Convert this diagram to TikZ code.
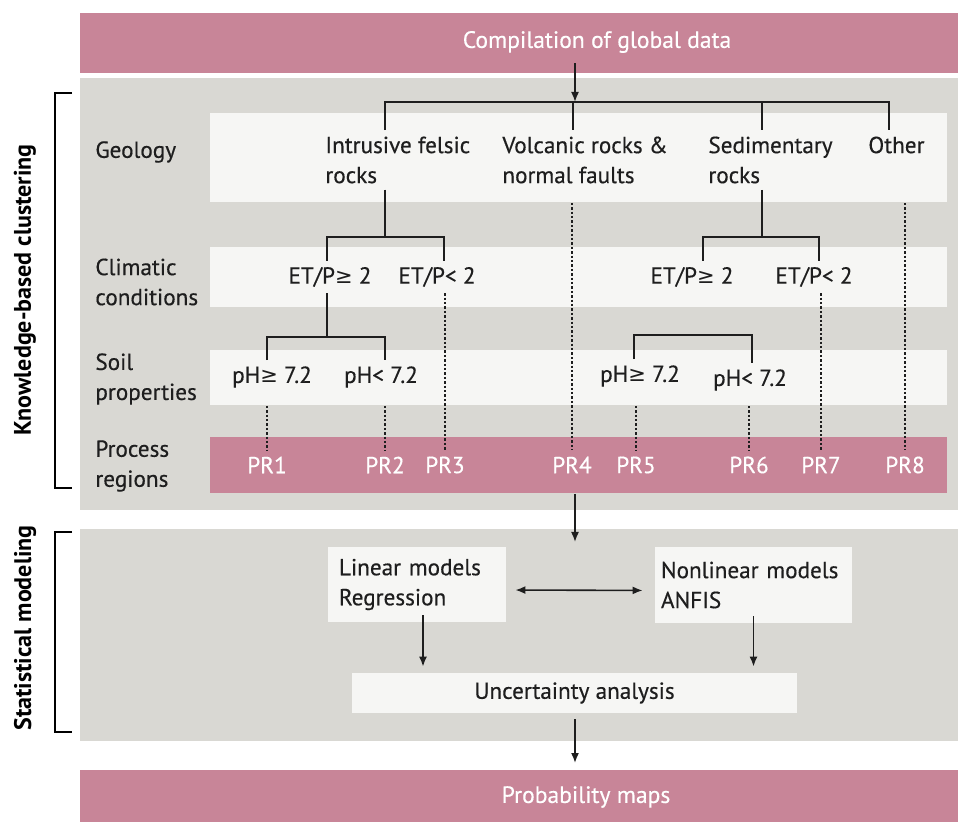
\documentclass[tikz,border=0pt]{standalone}
\usepackage{fontspec}
\setmainfont{PT Sans}
\newfontfamily\medfont[FakeBold=0.4]{PT Sans}
\newfontfamily\symfont{DejaVu Sans}
\newcommand{\geqsym}{{\symfont\fontsize{10.5}{12}\selectfont ≥}}
\usetikzlibrary{arrows.meta,positioning,calc}
\definecolor{prPink}{HTML}{C88598}
\definecolor{panelGray}{HTML}{D9D8D3}
\definecolor{bandWhite}{HTML}{F6F6F4}
\definecolor{inkDark}{HTML}{1E1E1E}

\tikzset{
  block/.style={draw=none,inner sep=0pt,anchor=north west,minimum width=#1},
  bar/.style={block=439pt,fill=prPink},
  panel/.style={block=439pt,fill=panelGray},
  band/.style={block=368.5pt,fill=bandWhite},
  lbl/.style={inner sep=3pt,text=inkDark,align=left,font=\medfont\fontsize{11.6}{15}\selectfont},
  rowlbl/.style={lbl,anchor=west},
  prlbl/.style={lbl,text=white},
  hdr/.style={inner sep=3pt,text=white,font=\medfont\fontsize{11.8}{15}\selectfont},
  mbox/.style={fill=bandWhite,inner ysep=3pt,align=left,text=inkDark,
               font=\medfont\fontsize{11.6}{15}\selectfont},
  side/.style={rotate=90,text=black,font=\bfseries\fontsize{12}{14}\selectfont},
  tree/.style={draw=inkDark,line width=1pt},
  dots/.style={draw=inkDark,line width=1.2pt,densely dotted},
  arr/.style={draw=inkDark,line width=0.8pt,-{Latex[length=5pt,width=4pt]}},
  arr2/.style={draw=inkDark,line width=0.8pt,{Latex[length=5pt,width=4pt]}-{Latex[length=5pt,width=4pt]}},
  brk/.style={draw=black,line width=1pt}
}

\begin{document}
\begin{tikzpicture}[x=0.5pt,y=-0.5pt]
\useasboundingbox (0,0) rectangle (958,822);

% backgrounds
\node[bar,minimum height=30pt] (topbar) at (80,13) {};
\node[panel,minimum height=216pt] (clustpanel) at (80,78) {};
\node[panel,minimum height=106pt] (statpanel) at (80,529) {};
\node[bar,minimum height=26pt] (probbar) at (80,770) {};
\node[band,minimum height=44.5pt] (geoband) at (210,113) {};
\node[band,minimum height=30pt] (climband) at (210,247) {};
\node[band,minimum height=27.5pt] (soilband) at (210,350) {};
\node[band,minimum height=28pt,fill=prPink] (prband) at (210,437) {};

\node[hdr] (comp) at (597,42) {Compilation of global data};
\node[hdr] (prob) at (586,797) {Probability maps};

% side brackets
\draw[brk] (72,93) -- (55,93) -- (55,488) -- (72,488);
\draw[brk] (72,532) -- (55,532) -- (55,732) -- (72,732);
\node[side] (kbc) at (25,290) {Knowledge-based clustering};
\node[side] (stm) at (25,628) {Statistical modeling};

% row labels
\node[rowlbl] (geo) at (89,152) {Geology};
\node[rowlbl] (clim) at (89,282) {Climatic\\conditions};
\node[rowlbl] (soil) at (89,379) {Soil\\properties};
\node[rowlbl] (proc) at (89,466) {Process\\regions};

% geology classes
\node[rowlbl] (intr) at (319,160) {Intrusive felsic\\rocks};
\node[rowlbl] (volc) at (496,160) {Volcanic rocks \&\\normal faults};
\node[rowlbl] (sedi) at (702,160) {Sedimentary\\rocks};
\node[rowlbl] (other) at (862,145) {Other};

% climate
\node[lbl] (etpA) at (330,277) {ET/P\geqsym{} 2};
\node[lbl] (etpB) at (437,277) {ET/P< 2};
\node[lbl] (etpC) at (692,277) {ET/P\geqsym{} 2};
\node[lbl] (etpD) at (814,277) {ET/P< 2};

% soil
\node[lbl] (phA) at (272,377) {pH\geqsym{} 7.2};
\node[lbl] (phB) at (381,377) {pH< 7.2};
\node[lbl] (phC) at (640,376) {pH\geqsym{} 7.2};
\node[lbl] (phD) at (750,380) {pH< 7.2};

% process regions
\node[prlbl] (pr1) at (267,465) {PR1};
\node[prlbl] (pr2) at (385,465) {PR2};
\node[prlbl] (pr3) at (445,465) {PR3};
\node[prlbl] (pr4) at (572,465) {PR4};
\node[prlbl] (pr5) at (636,465) {PR5};
\node[prlbl] (pr6) at (749,465) {PR6};
\node[prlbl] (pr7) at (821,465) {PR7};
\node[prlbl] (pr8) at (905,465) {PR8};

% tree joints
\coordinate (gsplit) at (575,102);
\coordinate (g1) at (385,102);
\coordinate (g2) at (573,102);
\coordinate (g3) at (762,102);
\coordinate (g4) at (889,102);
\coordinate (i1) at (327,237);
\coordinate (i2) at (444,237);
\coordinate (s1) at (703,237);
\coordinate (s2) at (819,237);
\coordinate (c1) at (267,337);
\coordinate (c2) at (385,337);
\coordinate (d1) at (634,335);
\coordinate (d2) at (752,335);

\draw[arr,shorten <=2pt] (comp.south -| gsplit) -- (gsplit);
\draw[tree] (g1 |- intr.north) -- (g1) -- (g4) -- (g4 |- other.north);
\draw[tree] (g2) -- (g2 |- volc.north);
\draw[tree] (g3) -- (g3 |- sedi.north);

\draw[tree] (g1 |- intr.south) -- (g1 |- i1);
\draw[tree] (i1 |- etpA.north) -- (i1) -- (i2) -- (i2 |- etpB.north);
\draw[tree] (g3 |- sedi.south) -- (g3 |- s1);
\draw[tree] (s1 |- etpC.north) -- (s1) -- (s2) -- (s2 |- etpD.north);

\draw[tree] (i1 |- etpA.south) -- (i1 |- c1);
\draw[tree] (c1 |- phA.north) -- (c1) -- (c2) -- (c2 |- phB.north);
\draw[tree] ($(d1)!0.5!(d2)$ |- etpC.south) -- ($(d1)!0.5!(d2)$);
\draw[tree] (d1 |- phC.north) -- (d1) -- (d2) -- (d2 |- phD.north);

% dotted leads to process regions
\draw[dots] (pr1 |- soilband.south) -- (pr1.north);
\draw[dots] (pr2 |- soilband.south) -- (pr2.north);
\draw[dots] (pr3 |- etpB.south) -- (pr3.north);
\draw[dots] (pr4 |- geoband.south) -- (pr4.north);
\draw[dots] (pr5 |- soilband.south) -- (pr5.north);
\draw[dots] (pr6 |- soilband.south) -- (pr6.north);
\draw[dots] (pr7 |- etpD.south) -- (pr7.north);
\draw[dots] (pr8 |- geoband.south) -- (pr8.north);

% statistical modeling
\coordinate (statin) at (575,542);
\draw[arr] (prband.south -| statin) -- (statin);

\node[mbox,minimum width=89pt,minimum height=37.5pt,inner xsep=5.5pt,text width=78pt]
  (linear) at (417,584.5) {Linear models\\Regression};
\node[mbox,minimum width=98.5pt,minimum height=38pt,inner xsep=3pt,text width=92.5pt]
  (nonlin) at (753.5,585) {Nonlinear models\\ANFIS};
\node[mbox,minimum width=222.5pt,minimum height=20pt,align=center]
  (unc) at (574.5,693) {Uncertainty analysis};

\draw[arr2,shorten <=4.5pt,shorten >=6pt] ([yshift=-2.75pt]linear.east) -- ([yshift=-2.75pt]nonlin.west);
\draw[arr,shorten <=-3.5pt,shorten >=3pt] ([xshift=3pt]linear.south) -- ([xshift=3pt]linear.south |- unc.north);
\draw[arr,shorten <=-3.5pt,shorten >=3pt] (nonlin.south) -- (nonlin.south |- unc.north);
\draw[arr,shorten <=3pt,shorten >=3.5pt] (unc.south -| statin) -- (probbar.north -| statin);
\end{tikzpicture}
\end{document}
